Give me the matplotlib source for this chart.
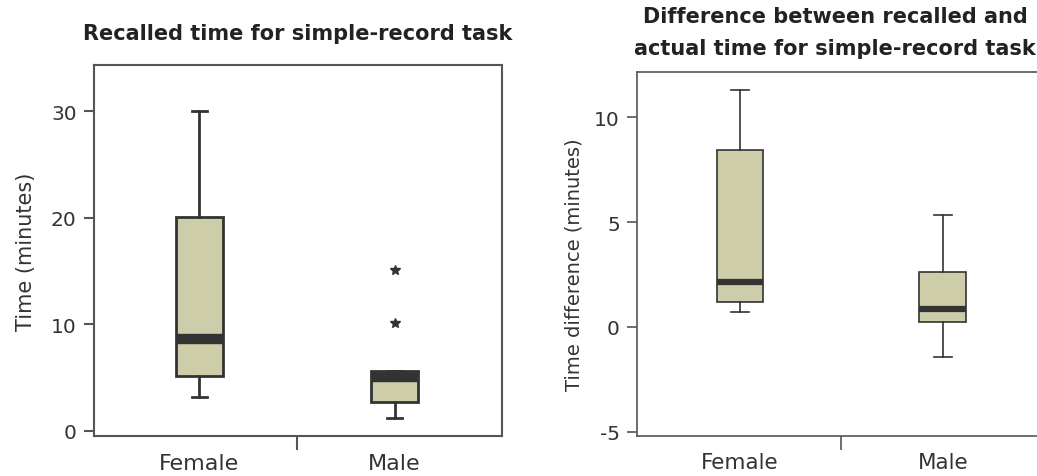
import matplotlib
matplotlib.use("Agg")
import matplotlib.pyplot as plt

plt.rcParams["font.family"] = ["DejaVu Sans"]
plt.rcParams["axes.unicode_minus"] = False

categories = ["Female", "Male"]

# recalled time (minutes): whisker low, Q1, median, Q3, whisker high
recalled_low = [3.2, 1.2]
recalled_q1 = [5.2, 2.7]
recalled_med = [8.6, 5.05]
recalled_q3 = [20.1, 5.6]
recalled_high = [30.0, 5.6]
recalled_outliers = [[], [10.1, 15.1]]

# recalled minus actual time (minutes)
diff_low = [0.7, -1.45]
diff_q1 = [1.2, 0.24]
diff_med = [2.15, 0.84]
diff_q3 = [8.45, 2.62]
diff_high = [11.3, 5.35]

FILL = "#cdcdaa"
DARK = "#333333"
TXT = "#333333"


def make_stats(low, q1, med, q3, high, fliers=None):
    stats = []
    for i, name in enumerate(categories):
        stats.append({
            "label": name,
            "whislo": low[i], "q1": q1[i], "med": med[i],
            "q3": q3[i], "whishi": high[i],
            "fliers": fliers[i] if fliers else [],
        })
    return stats


def style_axes(ax, lw, xsize):
    for s in ax.spines.values():
        s.set_color("#555555")
        s.set_linewidth(lw)
    ax.set_xticks([0, 1])
    ax.set_xticklabels(categories)
    ax.tick_params(axis="x", which="major", length=0, pad=12, labelsize=xsize, colors=TXT)
    ax.set_xticks([0.5], minor=True)
    ax.tick_params(axis="x", which="minor", length=10, width=lw, color="#555555")
    ax.tick_params(axis="y", length=7.5, width=lw, pad=5, labelsize=14.5, colors=TXT)
    ax.tick_params(axis="y", color="#555555")


fig = plt.figure(figsize=(10.37, 4.77), dpi=100)

ax1 = fig.add_axes([0.0906, 0.0839, 0.3935, 0.7777])
ax1.bxp(
    make_stats(recalled_low, recalled_q1, recalled_med, recalled_q3, recalled_high, recalled_outliers),
    positions=[0, 1], widths=0.24, patch_artist=True, showfliers=True,
    boxprops=dict(facecolor=FILL, edgecolor=DARK, linewidth=2),
    medianprops=dict(color=DARK, linewidth=7.5, solid_capstyle="butt"),
    whiskerprops=dict(color=DARK, linewidth=2),
    capprops=dict(color=DARK, linewidth=2),
    capwidths=0.075,
    flierprops=dict(marker="*", markersize=7, markerfacecolor=DARK, markeredgecolor=DARK),
)
ax1.set_xlim(-0.54, 1.55)
ax1.set_ylim(-0.47, 34.35)
ax1.set_yticks([0, 10, 20, 30])
ax1.set_ylabel("Time (minutes)", fontsize=15, color=TXT, labelpad=11)
ax1.set_title("Recalled time for simple-record task", fontsize=15, fontweight="bold",
              color="#222222", pad=19)
style_axes(ax1, 1.5, 16)

ax2 = fig.add_axes([0.6146, 0.0845, 0.402, 0.7618])
ax2.bxp(
    make_stats(diff_low, diff_q1, diff_med, diff_q3, diff_high),
    positions=[0, 1], widths=0.23, patch_artist=True, showfliers=False,
    boxprops=dict(facecolor=FILL, edgecolor=DARK, linewidth=1.2),
    medianprops=dict(color=DARK, linewidth=4.5, solid_capstyle="butt"),
    whiskerprops=dict(color=DARK, linewidth=1.2),
    capprops=dict(color=DARK, linewidth=1.2),
    capwidths=0.09,
)
ax2.set_xlim(-0.507, 1.55)
ax2.set_ylim(-5.19, 12.14)
ax2.set_yticks([-5, 0, 5, 10])
ax2.set_ylabel("Time difference (minutes)", fontsize=14, color=TXT)
ax2.yaxis.set_label_coords(-0.13, 0.472)
ax2.set_title("Difference between recalled and\nactual time for simple-record task",
              fontsize=15, fontweight="bold", color="#222222", pad=13, linespacing=1.75)
ax2.title.set_x(0.474)
style_axes(ax2, 1.2, 15.5)

fig.savefig("out.png", dpi=100)
